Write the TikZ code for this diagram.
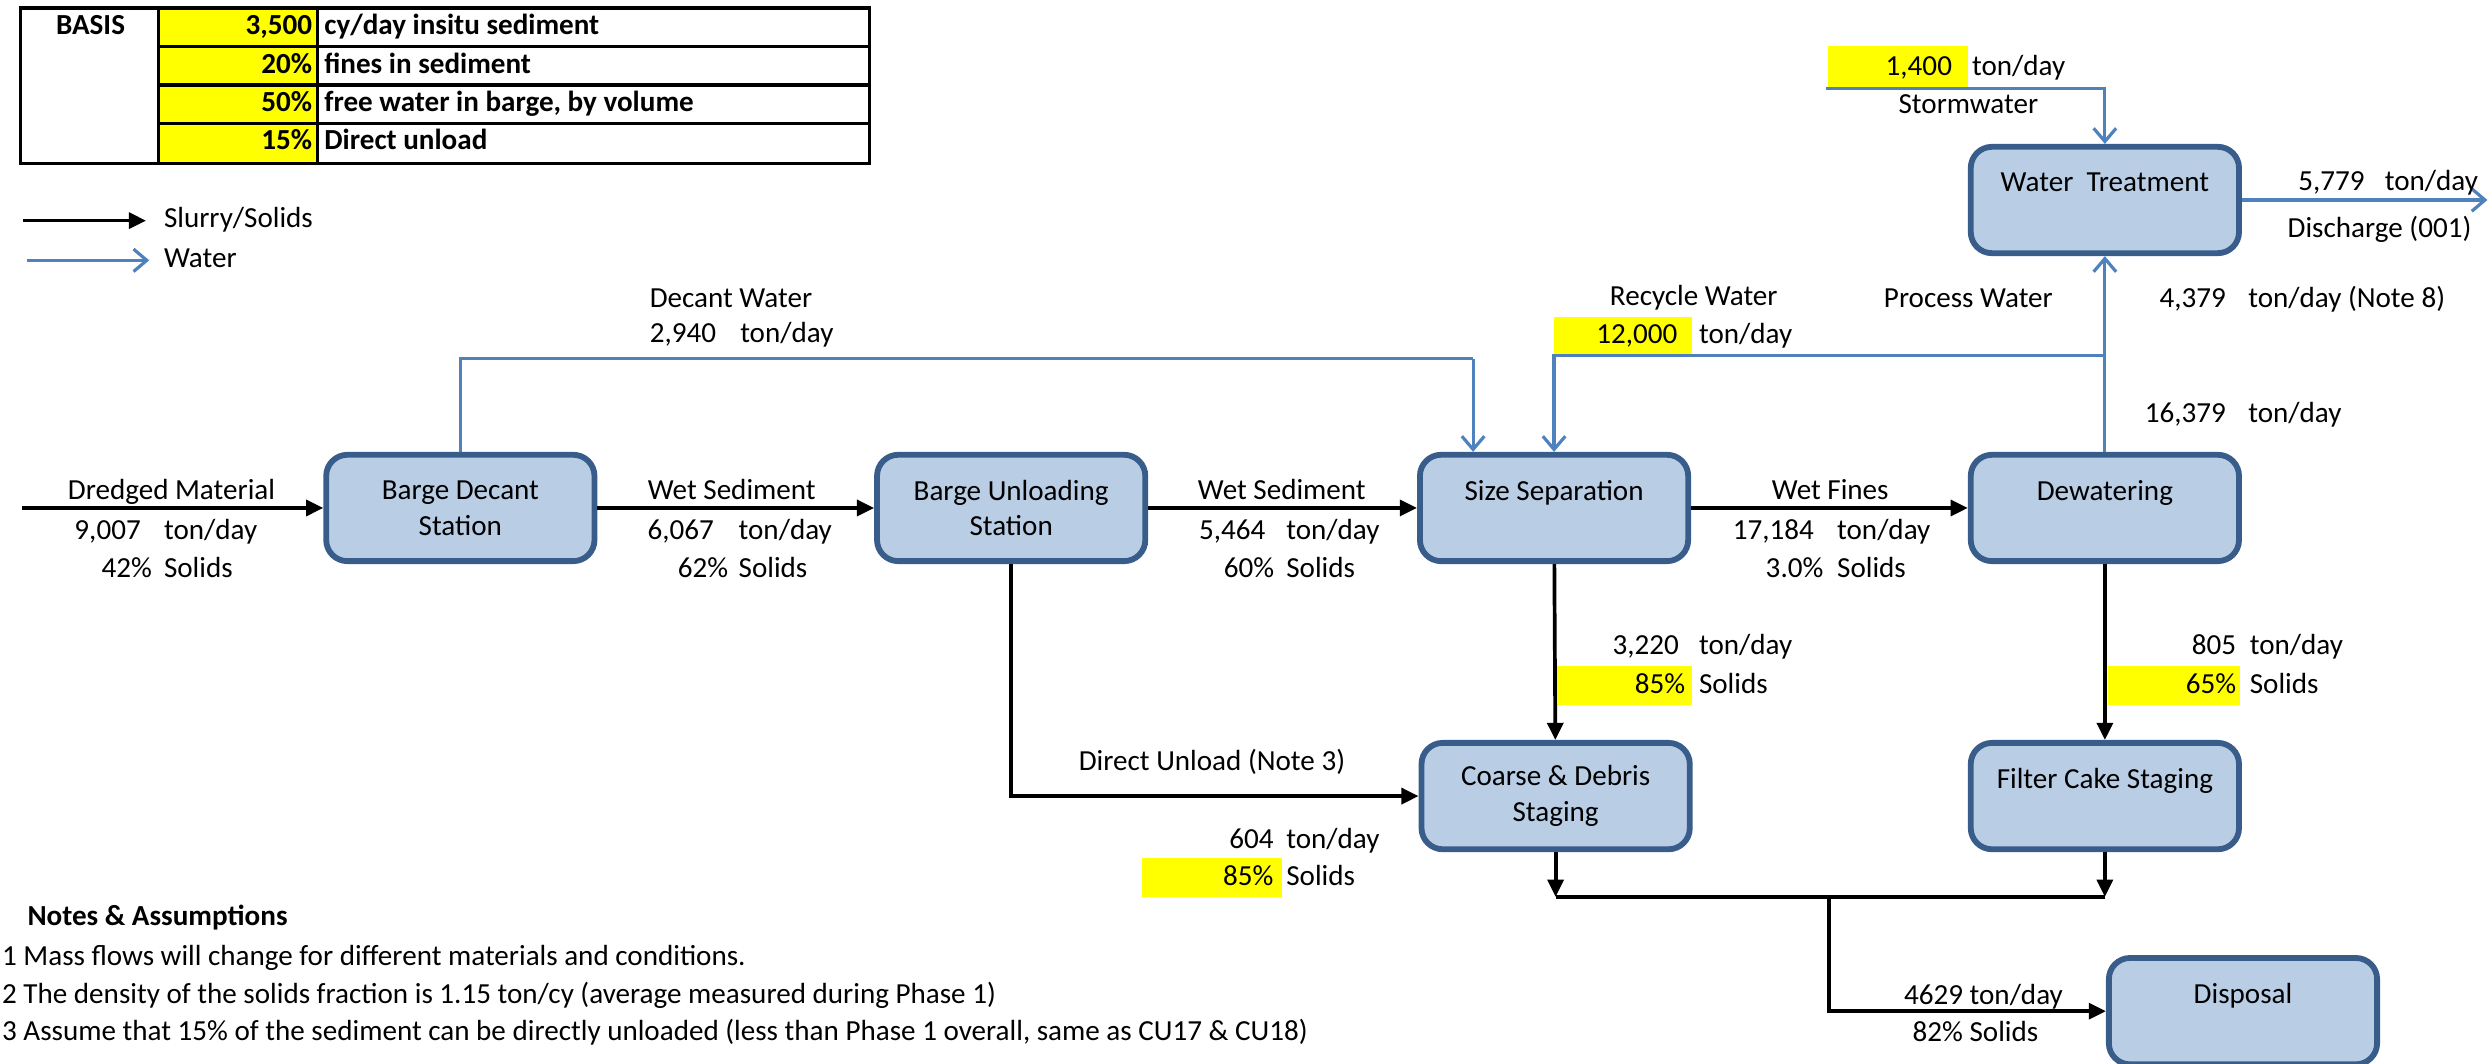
\documentclass[tikz,border=0pt]{standalone}
\usepackage{fontspec}
\setmainfont{Carlito}
\usetikzlibrary{arrows.meta}
\definecolor{boxfill}{RGB}{185,205,229}
\definecolor{boxedge}{RGB}{56,93,138}
\definecolor{waterblue}{RGB}{79,129,189}
\definecolor{hlyellow}{RGB}{255,255,0}
\begin{document}
\begin{tikzpicture}[x=0.6pt, y=-0.6pt, font=\fontsize{11}{13.5}\selectfont,
  unit/.style={draw=boxedge, fill=boxfill, line width=2.2pt, rounded corners=8pt,
    minimum width=101.4pt, minimum height=40.2pt, align=center, inner sep=0pt},
  slurry/.style={line width=1.4pt, -{Triangle[length=6.5pt,width=6pt]}},
  water/.style={draw=waterblue, line width=1.2pt, -{Straight Barb[length=5pt,width=8.5pt]}},
  txt/.style={inner sep=0pt, text height=7.5pt, text depth=2pt},
  hl/.style={fill=hlyellow, draw=none}]
    \useasboundingbox (0,0) rectangle (1568,670);

    % basis table
    \fill[hlyellow] (100,5) rectangle (200,103);
    \draw[line width=1.2pt] (12.7,5) rectangle (548,103);
    \draw[line width=1.2pt] (100,5) -- (100,103) (200,5) -- (200,103);
    \foreach \y in {29.4,53.6,77.8}
        \draw[line width=1.2pt] (100,\y) -- (548,\y);
    \node[txt] (basis) at (57,17.3) {\bfseries BASIS};
    \node[txt, anchor=east] (v1) at (197,17.3) {\bfseries 3,500};
    \node[txt, anchor=east] (v2) at (197,41.5) {\bfseries 20\%};
    \node[txt, anchor=east] (v3) at (197,65.7) {\bfseries 50\%};
    \node[txt, anchor=east] (v4) at (197,89.9) {\bfseries 15\%};
    \node[txt, anchor=west] (d1) at (204,17.3) {\bfseries cy/day insitu sediment};
    \node[txt, anchor=west] (d2) at (204,41.5) {\bfseries fines in sediment};
    \node[txt, anchor=west] (d3) at (204,65.7) {\bfseries free water in barge, by volume};
    \node[txt, anchor=west] (d4) at (204,89.9) {\bfseries Direct unload};

    % legend
    \coordinate (k1a) at (14.5,139);
    \coordinate (k1b) at (92,139);
    \coordinate (k2a) at (17,164);
    \coordinate (k2b) at (94,164);
    \draw[slurry] (k1a) -- (k1b);
    \draw[water] (k2a) -- (k2b);
    \node[txt, anchor=west] (k1) at (103,139) {Slurry/Solids};
    \node[txt, anchor=west] (k2) at (103,164) {Water};

    % highlighted cells
    \fill[hlyellow] (1151.4,29) rectangle (1239.8,55);
    \fill[hlyellow] (979,199.5) rectangle (1066,223.6);
    \fill[hlyellow] (981,419.5) rectangle (1066,444);
    \fill[hlyellow] (1328,419.5) rectangle (1411,444);
    \fill[hlyellow] (719.5,540.5) rectangle (807.5,565);

    % units
    \node[unit] (dec) at (290,320) {Barge Decant\\Station};
    \node[unit] (unl) at (637,320) {Barge Unloading\\Station};
    \node[unit] (sep) at (979,320) {Size Separation\\\mbox{}};
    \node[unit] (dew) at (1326,320) {Dewatering\\\mbox{}};
    \node[unit] (crs) at (980,501.5) {Coarse \& Debris\\Staging};
    \node[unit] (flt) at (1326,501.5) {Filter Cake Staging\\\mbox{}};
    \node[unit] (wt) at (1326,126) {Water\ \ Treatment\\\mbox{}};
    \node[unit] (dsp) at (1413,637) {Disposal\\\mbox{}};

    % slurry flows
    \coordinate (in) at (14,320);
    \draw[slurry] (in) -- (dec);
    \draw[slurry] (dec) -- (unl);
    \draw[slurry] (unl) -- (sep);
    \draw[slurry] (sep) -- (dew);
    \draw[slurry] (sep) -- (crs);
    \draw[slurry] (dew) -- (flt);
    \draw[slurry] (unl.south) |- (crs.west);
    \coordinate (jl) at (980,565);
    \coordinate (jr) at (1326,565);
    \coordinate (jm) at (1152,565);
    \draw[slurry] (crs.south) -- (jl);
    \draw[slurry] (flt.south) -- (jr);
    \draw[line width=1.4pt] (jl) -- (jr);
    \draw[slurry] (jm) |- (dsp.west);

    % water flows
    \coordinate (dcw) at (928,226);
    \draw[water, -] (dec.north) |- (dcw);
    \draw[water] (dcw) -- (dcw |- sep.north);
    \coordinate (rcw) at (1326,224);
    \draw[water] (rcw) -| (sep.north);
    \draw[water] (dew.north) -- (wt.south);
    \coordinate (sw) at (1150,56);
    \draw[water] (sw) -| (wt.north);
    \coordinate (dis) at (1567,126);
    \draw[water] (wt.east) -- (dis);

    % flow labels
    \node[txt] (l1) at (108,310) {Dredged Material};
    \node[txt, anchor=east] (l1a) at (89,335) {9,007};
    \node[txt, anchor=west] (l1b) at (103,335) {ton/day};
    \node[txt, anchor=east] (l1c) at (96,359) {42\%};
    \node[txt, anchor=west] (l1d) at (103,359) {Solids};

    \node[txt] (l2) at (461,310) {Wet Sediment};
    \node[txt, anchor=east] (l2a) at (450,335) {6,067};
    \node[txt, anchor=west] (l2b) at (465,335) {ton/day};
    \node[txt, anchor=east] (l2c) at (459,359) {62\%};
    \node[txt, anchor=west] (l2d) at (465,359) {Solids};

    \node[txt] (l3) at (807.5,310) {Wet Sediment};
    \node[txt, anchor=east] (l3a) at (797.5,335) {5,464};
    \node[txt, anchor=west] (l3b) at (810,335) {ton/day};
    \node[txt, anchor=east] (l3c) at (803,359) {60\%};
    \node[txt, anchor=west] (l3d) at (810,359) {Solids};

    \node[txt] (l4) at (1153,310) {Wet Fines};
    \node[txt, anchor=east] (l4a) at (1143,335) {17,184};
    \node[txt, anchor=west] (l4b) at (1157,335) {ton/day};
    \node[txt, anchor=east] (l4c) at (1149,359) {3.0\%};
    \node[txt, anchor=west] (l4d) at (1157,359) {Solids};

    \node[txt, anchor=east] (l5a) at (1058,408) {3,220};
    \node[txt, anchor=west] (l5b) at (1070,408) {ton/day};
    \node[txt, anchor=east] (l5c) at (1062,432) {85\%};
    \node[txt, anchor=west] (l5d) at (1070,432) {Solids};

    \node[txt, anchor=east] (l6a) at (1409,408) {805};
    \node[txt, anchor=west] (l6b) at (1417,408) {ton/day};
    \node[txt, anchor=east] (l6c) at (1409,432) {65\%};
    \node[txt, anchor=west] (l6d) at (1417,432) {Solids};

    \node[txt] (l7) at (763.5,481) {Direct Unload (Note 3)};
    \node[txt, anchor=east] (l7a) at (802.6,530) {604};
    \node[txt, anchor=west] (l7b) at (810,530) {ton/day};
    \node[txt, anchor=east] (l7c) at (802.6,553) {85\%};
    \node[txt, anchor=west] (l7d) at (810,553) {Solids};

    \node[txt] (l8a) at (1249.5,628) {4629 ton/day};
    \node[txt] (l8b) at (1244.5,651.5) {82\% Solids};

    \node[txt, anchor=west] (w1) at (409,189) {Decant Water};
    \node[txt, anchor=west] (w1a) at (409,211) {2,940};
    \node[txt, anchor=west] (w1b) at (466,211) {ton/day};

    \node[txt] (w2) at (1067,188) {Recycle Water};
    \node[txt, anchor=east] (w2a) at (1057,212) {12,000};
    \node[txt, anchor=west] (w2b) at (1070,212) {ton/day};

    \node[txt] (w3) at (1240,189) {Process Water};
    \node[txt, anchor=east] (w3a) at (1402.5,189) {4,379};
    \node[txt, anchor=west] (w3b) at (1416,189) {ton/day (Note 8)};
    \node[txt, anchor=east] (w4a) at (1402.5,261.4) {16,379};
    \node[txt, anchor=west] (w4b) at (1416,261.4) {ton/day};

    \node[txt, anchor=east] (w5a) at (1230,43) {1,400};
    \node[txt, anchor=west] (w5b) at (1242,43) {ton/day};
    \node[txt] (w5) at (1240,67) {Stormwater};

    \node[txt, anchor=east] (w6a) at (1490,115.5) {5,779};
    \node[txt, anchor=west] (w6b) at (1502,115.5) {ton/day};
    \node[txt] (w6) at (1499,145) {Discharge (001)};

    % notes
    \node[txt, anchor=west] (nt) at (17,578.5) {\bfseries Notes \& Assumptions};
    \node[txt, anchor=west] (n1) at (1,603.7) {1 Mass flows will change for different materials and conditions.};
    \node[txt, anchor=west] (n2) at (1,627.4) {2 The density of the solids fraction is 1.15 ton/cy (average measured during Phase 1)};
    \node[txt, anchor=west] (n3) at (1,651) {3 Assume that 15\% of the sediment can be directly unloaded (less than Phase 1 overall, same as CU17 \& CU18)};
\end{tikzpicture}
\end{document}
